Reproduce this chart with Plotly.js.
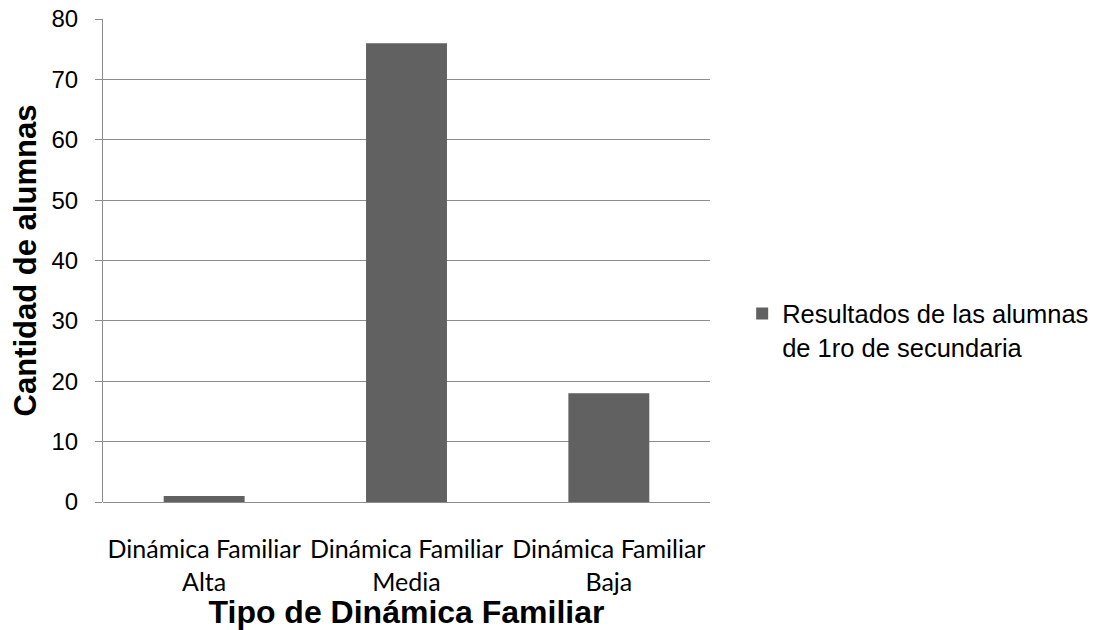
<!DOCTYPE html>
<html><head><meta charset="utf-8">
<script src="https://cdn.plot.ly/plotly-3.0.1.min.js"></script>
<style>body{margin:0;background:#fff}#c{width:1109px;height:630px}</style>
</head><body><div id="c"></div>
<script>
var categories = ["Dinámica Familiar<br>Alta", "Dinámica Familiar<br>Media", "Dinámica Familiar<br>Baja"];
var values = [1, 76, 18];
var seriesName = "Resultados de las alumnas<br>de 1ro de secundaria";
var yTicks = [0, 10, 20, 30, 40, 50, 60, 70, 80];

var trace = {
  type: "bar", x: categories, y: values, name: seriesName,
  marker: {color: "#616161"}, showlegend: true, hoverinfo: "none"
};
var layout = {
  width: 1109, height: 630,
  margin: {l: 103, r: 399, t: 19, b: 128},
  paper_bgcolor: "#fff", plot_bgcolor: "#fff",
  bargap: 0.6,
  showlegend: true,
  legend: {x: 1.053, y: 0.438, xanchor: "left", yanchor: "top", valign: "top",
           font: {family: "Liberation Sans, Arial, sans-serif", size: 25.5, color: "#000"},
           itemwidth: 30, tracegroupgap: 0},
  xaxis: {
    type: "category", showgrid: false, showline: false, ticks: "",
    ticklabelstandoff: 30,
    tickfont: {family: "Lato, sans-serif", size: 25, color: "#000"},
    title: {text: "Tipo de Dinámica Familiar", standoff: 0,
            font: {family: "Liberation Sans, Arial, sans-serif", size: 32, color: "#000", weight: "bold"}}
  },
  yaxis: {
    range: [0, 80], tickvals: yTicks, ticktext: yTicks.map(String),
    showgrid: true, gridcolor: "#8c8c8c", gridwidth: 1,
    showline: true, linecolor: "#8c8c8c", linewidth: 1,
    zeroline: true, zerolinecolor: "#8c8c8c", zerolinewidth: 1,
    ticks: "outside", ticklen: 7, tickcolor: "#8c8c8c",
    ticklabelstandoff: 12,
    tickfont: {family: "Liberation Sans, Arial, sans-serif", size: 24, color: "#000"},
    title: {text: "Cantidad de alumnas", standoff: 5,
            font: {family: "Liberation Sans, Arial, sans-serif", size: 31, color: "#000", weight: "bold"}}
  }
};
Plotly.newPlot("c", [trace], layout, {displayModeBar: false, staticPlot: true});
</script></body></html>
